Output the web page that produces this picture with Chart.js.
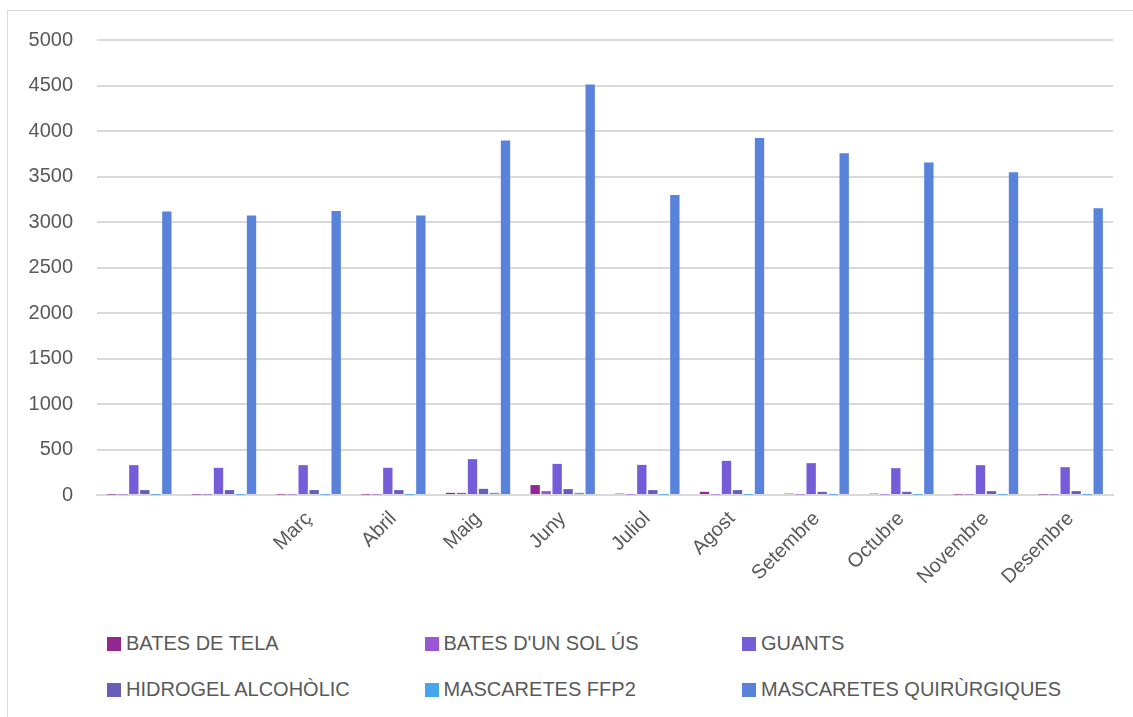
<!DOCTYPE html>
<html>
<head>
<meta charset="utf-8">
<script src="https://cdn.jsdelivr.net/npm/chart.js@4/dist/chart.umd.min.js"></script>
<style>
    html, body { margin: 0; padding: 0; background: #fff; }
    body { width: 1133px; height: 717px; position: relative; overflow: hidden; font-family: 'Liberation Sans', Arial, sans-serif; }
    #frame { position: absolute; left: 7px; top: 10px; width: 1140px; height: 720px; border: 1.5px solid #d9d9d9; box-sizing: border-box; }
    #wrap { position: absolute; left: 8px; top: 4px; width: 1125px; height: 607px; }
    #legend { position: absolute; left: 107px; top: 632px; width: 960px; }
    .item { position: absolute; display: flex; align-items: center; color: #595959; font-size: 20px; white-space: nowrap; }
    .item span.box { width: 14px; height: 14px; margin-right: 5px; display: inline-block; }
</style>
</head>
<body>
<div id="frame"></div>
<div id="wrap"><canvas id="chart"></canvas></div>
<div id="legend"></div>
<script>
const months = ['', '', 'Març', 'Abril', 'Maig', 'Juny', 'Juliol', 'Agost', 'Setembre', 'Octubre', 'Novembre', 'Desembre'];

const batesTela = [5, 5, 5, 5, 24, 109, 15, 35, 15, 15, 5, 5];
const batesSolUs = [5, 5, 5, 5, 24, 43, 5, 5, 5, 5, 5, 5];
const guants = [328, 299, 328, 299, 394, 342, 331, 375, 350, 295, 328, 306];
const hidrogel = [54, 54, 54, 54, 68, 65, 54, 54, 35, 35, 43, 43];
const ffp2 = [3, 3, 3, 3, 24, 24, 3, 3, 3, 3, 3, 3];
const quirurgiques = [3115, 3072, 3120, 3072, 3895, 4512, 3298, 3922, 3755, 3655, 3548, 3152];

const yTicks = [0, 500, 1000, 1500, 2000, 2500, 3000, 3500, 4000, 4500, 5000];

const series = [
    { label: 'BATES DE TELA', data: batesTela, color: '#92278f' },
    { label: "BATES D'UN SOL ÚS", data: batesSolUs, color: '#9b57d3' },
    { label: 'GUANTS', data: guants, color: '#755dd9' },
    { label: 'HIDROGEL ALCOHÒLIC', data: hidrogel, color: '#665eb8' },
    { label: 'MASCARETES FFP2', data: ffp2, color: '#45a5ed' },
    { label: 'MASCARETES QUIRÙRGIQUES', data: quirurgiques, color: '#5982db' }
];

const font = { family: "'Liberation Sans', Arial, sans-serif", size: 20 };

const ctx = document.getElementById('chart').getContext('2d');
const chart = new Chart(ctx, {
    type: 'bar',
    data: {
        labels: months,
        datasets: series.map(s => ({
            label: s.label,
            data: s.data,
            backgroundColor: s.color,
            borderColor: s.color,
            borderWidth: 0,
            categoryPercentage: 0.78,
            barPercentage: 0.85
        }))
    },
    options: {
        responsive: true,
        maintainAspectRatio: false,
        animation: false,
        layout: { padding: { top: 20, right: 20, left: 0, bottom: 0 } },
        plugins: {
            legend: { display: false },
            tooltip: { enabled: false }
        },
        scales: {
            x: {
                grid: { display: false, drawTicks: false },
                border: { display: true, color: '#d9d9d9', width: 2 },
                ticks: {
                    color: '#595959',
                    font: font,
                    minRotation: 45,
                    maxRotation: 45,
                    autoSkip: false,
                    padding: 12
                },
                afterFit(scale) { scale.height = 116; }
            },
            y: {
                min: 0,
                max: 5000,
                afterBuildTicks(scale) { scale.ticks = yTicks.map(v => ({ value: v })); },
                grid: { color: '#d9d9d9', lineWidth: 2, drawTicks: false },
                border: { display: false },
                ticks: { color: '#595959', font: font, padding: 24, callback: v => String(v) },
                afterFit(scale) { scale.width = 89; }
            }
        }
    }
});

// legend laid out in a fixed three-column grid
const legend = document.getElementById('legend');
series.forEach((s, i) => {
    const item = document.createElement('div');
    item.className = 'item';
    item.style.left = (i % 3) * 317.5 + 'px';
    item.style.top = Math.floor(i / 3) * 46 + 'px';
    const box = document.createElement('span');
    box.className = 'box';
    box.style.background = s.color;
    item.appendChild(box);
    item.appendChild(document.createTextNode(s.label));
    legend.appendChild(item);
});
</script>
</body>
</html>
